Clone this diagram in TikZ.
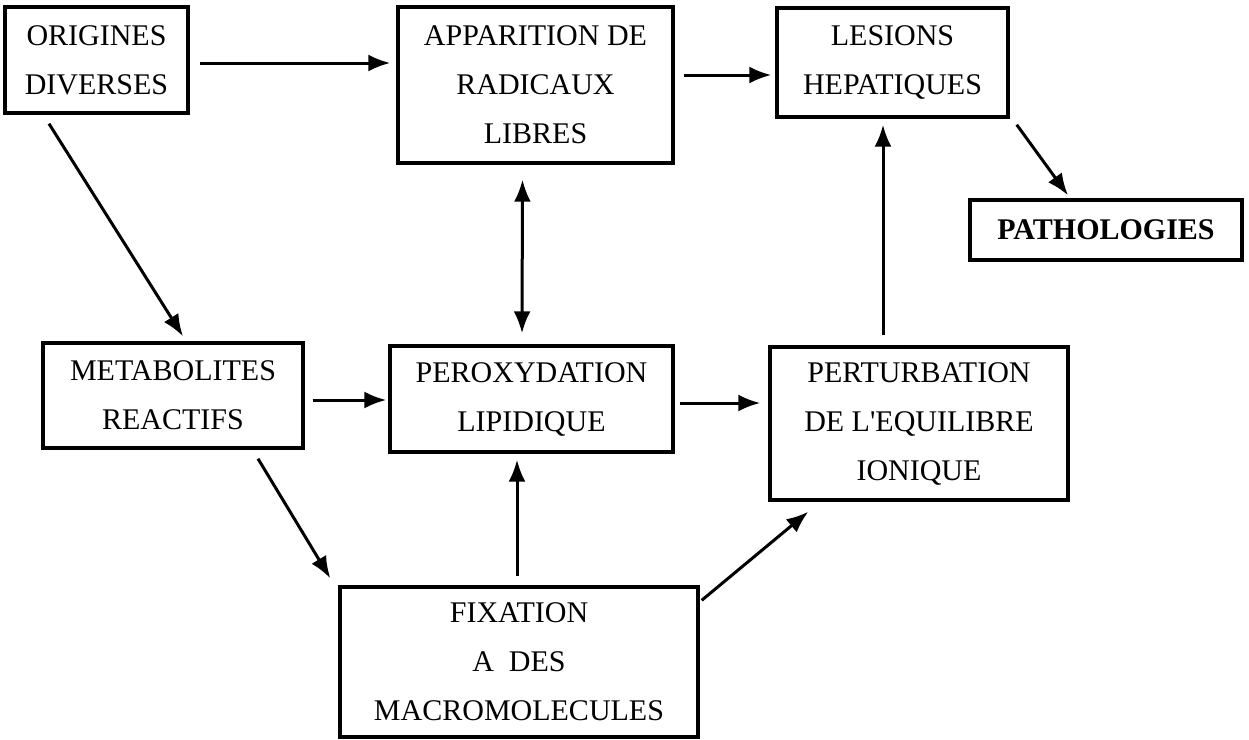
\documentclass[tikz,border=0pt]{standalone}
\usepackage{fontspec}
\setmainfont{Liberation Serif}
\usetikzlibrary{arrows.meta,calc}
\tikzset{
  box/.style={draw, line width=3.4pt, rectangle, inner sep=0pt, align=center,
    font=\fontsize{30}{49}\selectfont},
  arr/.style={line width=3pt, -{Latex[length=22pt,width=17pt]}},
  darr/.style={line width=3pt, {Latex[length=22pt,width=17pt]}-{Latex[length=22pt,width=17pt]}}
}
\begin{document}
\begin{tikzpicture}[x=1pt,y=-1pt]
\useasboundingbox[fill=white] (0,0) rectangle (1249,739);
\node[box, minimum width=183pt, minimum height=106pt] (ori) at (96.5,60) {ORIGINES\\DIVERSES};
\node[box, minimum width=275pt, minimum height=156pt] (app) at (535.5,85) {APPARITION DE\\RADICAUX\\LIBRES};
\node[box, minimum width=231pt, minimum height=109pt] (les) at (892.5,62.5) {LESIONS\\HEPATIQUES};
\node[box, minimum width=272pt, minimum height=60pt] (pat) at (1106,230) {\bfseries PATHOLOGIES};
\node[box, minimum width=260pt, minimum height=105pt] (met) at (173,395.5) {METABOLITES\\REACTIFS};
\node[box, minimum width=283pt, minimum height=106pt] (per) at (531.5,399) {PEROXYDATION\\LIPIDIQUE};
\node[box, minimum width=298pt, minimum height=153pt] (ion) at (919,423.5) {PERTURBATION\\DE L\textquotesingle EQUILIBRE\\IONIQUE};
\node[box, minimum width=358pt, minimum height=150pt] (fix) at (519,662) {FIXATION\\A\ \ DES\\MACROMOLECULES};

\draw[arr] ($(ori.east)+(10,3)$) -- ($(app.west)+(-6,-22)$);
\draw[arr] ($(app.east)+(9,-10)$) -- ($(les.west)+(-4,12.5)$);
\draw[arr] ($(les.south east)+(7,6)$) -- ($(pat.north)+(-38,-3)$);
\draw[arr] ($(ori.south)+(-47.5,9)$) -- ($(met.north)+(10,-5)$);
\draw[darr] ($(app.south)+(-13,15)$) -- ($(per.north)+(-9.5,-11)$);
\draw[arr] ($(met.east)+(8,4.5)$) -- ($(per.west)+(-2,1)$);
\draw[arr] ($(per.east)+(5,4)$) -- ($(ion.west)+(-8,-20.5)$);
\draw[arr] ($(ion.north)+(-36,-10)$) -- ($(les.south)+(-9.5,6)$);
\draw[arr] ($(met.south)+(85,9)$) -- ($(fix.north west)+(-8,-7)$);
\draw[arr] ($(fix.north)+(-2,-9)$) -- ($(per.south)+(-14.5,6)$);
\draw[arr] ($(fix.north east)+(2,15)$) -- ($(ion.south west)+(40,10)$);
\end{tikzpicture}
\end{document}
